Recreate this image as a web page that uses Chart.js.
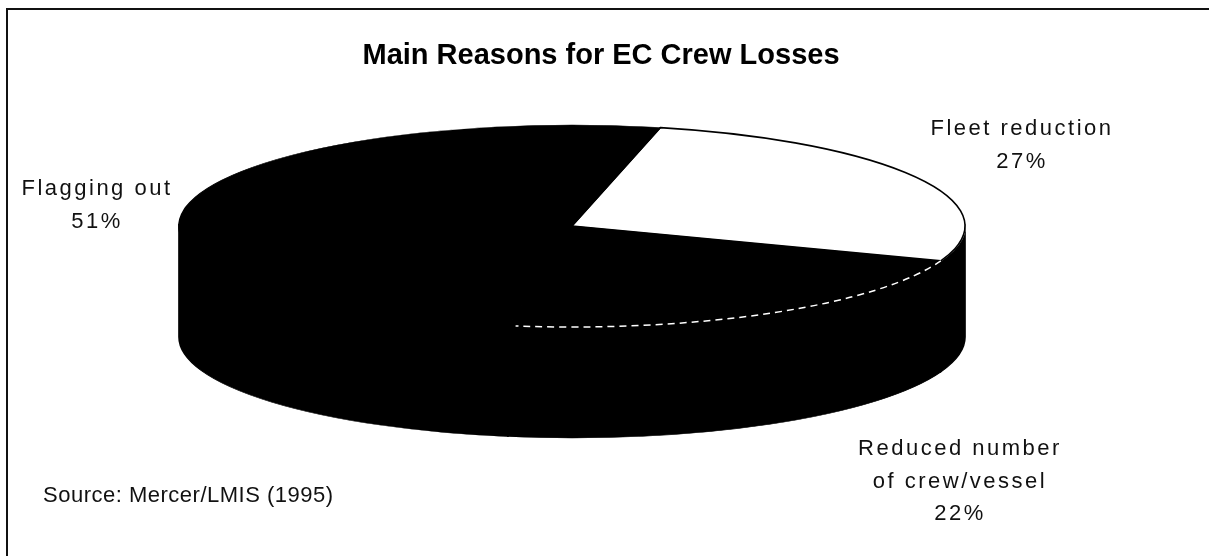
<!DOCTYPE html>
<html>
<head>
<meta charset="utf-8">
<script src="https://cdn.jsdelivr.net/npm/chart.js@4/dist/chart.umd.min.js"></script>
<style>
  html, body { margin: 0; padding: 0; background: #fff; }
  canvas { display: block; }
</style>
</head>
<body>
<canvas id="crew-losses" width="1209" height="556"></canvas>
<script>
// data, clockwise from the start angle
const categories = ["Fleet reduction", "Reduced number of crew/vessel", "Flagging out"];
const labelLines = [["Fleet reduction"], ["Reduced number", "of crew/vessel"], ["Flagging out"]];
const shares = [27, 22, 51];
const topColors = ["#ffffff", "#000000", "#000000"];
const sideColors = ["#000000", "#000000", "#000000"];
const titleText = "Main Reasons for EC Crew Losses";
const sourceText = "Source: Mercer/LMIS (1995)";

// where the flattened pie sits on the page
const CX = 572, CY = 226, RX = 393, RY = 101, DEPTH = 111;
// label anchors (first line baseline), line step
const labelPos = [{ x: 1022, y: 135 }, { x: 960, y: 455 }, { x: 97, y: 195 }];
const LINE_STEP = 32.5;
const FONT = "'Liberation Sans', Arial, sans-serif";

function pieTransform(ctx, arc) {
  const R = arc.outerRadius;
  ctx.translate(CX, CY);
  ctx.scale(RX / R, RY / R);
  ctx.translate(-arc.x, -arc.y);
}

const pie3d = {
  id: "pie3d",
  beforeDatasetsDraw(chart) {
    const ctx = chart.ctx;
    const arcs = chart.getDatasetMeta(0).data;
    const R = arcs[0].outerRadius;
    const d = DEPTH * R / RY;
    const lift = 2 * R / RY; // wall starts 2px under the top face, no grey seam
    ctx.save();
    pieTransform(ctx, arcs[0]);
    // side walls, only the front half (angles 0..PI) shows
    arcs.forEach((arc, i) => {
      for (let k = -1; k <= 2; k++) {
        const s = Math.max(arc.startAngle, 2 * Math.PI * k);
        const e = Math.min(arc.endAngle, 2 * Math.PI * k + Math.PI);
        if (e <= s) continue;
        ctx.beginPath();
        ctx.arc(arc.x, arc.y - lift, R, s, e);
        ctx.arc(arc.x, arc.y + d, R, e, s, true);
        ctx.closePath();
        ctx.fillStyle = sideColors[i];
        ctx.strokeStyle = sideColors[i];
        ctx.lineWidth = 1;
        ctx.fill();
        ctx.stroke();
      }
    });
    // transform stays on while the library draws the top faces
  },
  afterDatasetsDraw(chart) {
    const ctx = chart.ctx;
    ctx.restore();
    const arcs = chart.getDatasetMeta(0).data;

    // outline of the white slice
    const w = arcs[0];
    ctx.save();
    pieTransform(ctx, w);
    ctx.beginPath();
    ctx.moveTo(w.x, w.y);
    ctx.arc(w.x, w.y, w.outerRadius, w.startAngle, w.endAngle);
    ctx.closePath();
    ctx.restore();
    ctx.strokeStyle = "#000";
    ctx.lineWidth = 1.6;
    ctx.stroke();

    // broken white rim on the crew slice
    const c = arcs[1];
    ctx.save();
    pieTransform(ctx, c);
    ctx.beginPath();
    ctx.arc(c.x, c.y, c.outerRadius, c.startAngle, c.endAngle - 0.02);
    ctx.restore();
    ctx.save();
    ctx.setLineDash([7, 5]);
    ctx.strokeStyle = "#fff";
    ctx.lineWidth = 1.5;
    ctx.stroke();
    ctx.restore();
  },
  afterDraw(chart) {
    const ctx = chart.ctx;
    ctx.save();
    // frame (left and top edges show)
    ctx.strokeStyle = "#111";
    ctx.lineWidth = 2;
    ctx.beginPath();
    ctx.moveTo(7, 570);
    ctx.lineTo(7, 9);
    ctx.lineTo(1215, 9);
    ctx.stroke();

    // slice labels
    ctx.fillStyle = "#111";
    ctx.textBaseline = "alphabetic";
    ctx.textAlign = "center";
    ctx.font = "22px " + FONT;
    ctx.letterSpacing = "2.5px";
    labelLines.forEach((lines, i) => {
      const p = labelPos[i];
      const all = lines.concat([shares[i] + "%"]);
      all.forEach((t, j) => ctx.fillText(t, p.x, p.y + j * LINE_STEP));
    });

    // source note
    ctx.textAlign = "left";
    ctx.letterSpacing = "0.5px";
    ctx.fillText(sourceText, 43, 502);
    ctx.restore();
  }
};

new Chart(document.getElementById("crew-losses"), {
  type: "pie",
  data: {
    labels: categories,
    datasets: [{
      data: shares,
      backgroundColor: topColors,
      borderWidth: 1,
      borderColor: topColors,
      clip: false
    }]
  },
  options: {
    responsive: false,
    animation: false,
    rotation: 13,
    layout: { padding: { right: 7 } },
    plugins: {
      legend: { display: false },
      tooltip: { enabled: false },
      title: {
        display: true,
        text: titleText,
        color: "#000",
        font: { family: FONT, size: 29, weight: "bold" },
        padding: { top: 39, bottom: 10 }
      }
    }
  },
  plugins: [pie3d]
});
</script>
</body>
</html>
